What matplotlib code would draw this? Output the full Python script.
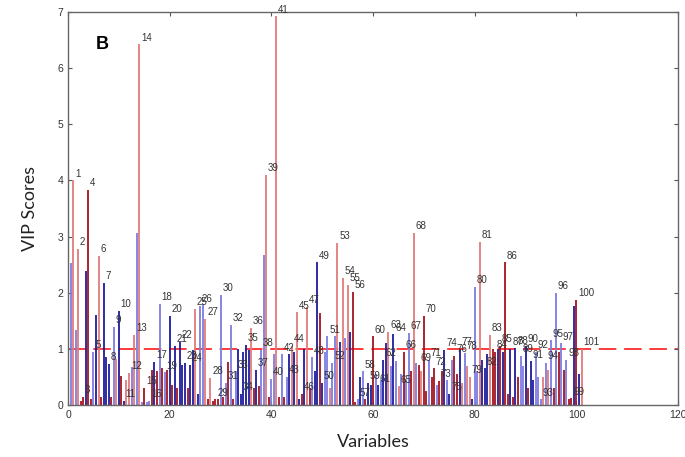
import numpy as np
import matplotlib
matplotlib.use('Agg')
import matplotlib.pyplot as plt

# VIP score per variable (labelled stem) and a second stem drawn just left of it
var_ids = list(range(1, 102))
vip_main = [4.00, 2.78, 0.15, 3.83, 0.95, 2.65, 2.17, 0.73, 1.39, 1.68,
            0.08, 0.57, 1.25, 6.42, 0.30, 0.08, 0.77, 1.80, 0.58, 1.59,
            1.05, 1.12, 0.75, 0.72, 1.71, 1.77, 1.53, 0.48, 0.10, 1.96,
            0.40, 1.43, 0.60, 0.20, 1.07, 1.37, 0.63, 0.98, 4.10, 0.47,
            6.92, 0.90, 0.50, 1.05, 1.65, 0.20, 1.75, 0.85, 2.54, 0.40,
            1.22, 0.75, 2.89, 2.26, 2.14, 2.02, 0.10, 0.60, 0.40, 1.22,
            0.35, 0.80, 1.30, 1.26, 0.33, 0.95, 1.28, 3.06, 0.72, 1.59,
            0.80, 0.65, 0.43, 0.98, 0.20, 0.87, 1.00, 0.93, 0.50, 2.10,
            2.91, 0.65, 1.25, 0.95, 1.05, 2.54, 1.00, 1.02, 0.88, 1.05,
            0.78, 0.95, 0.10, 0.75, 1.15, 2.00, 1.10, 0.80, 0.12, 1.87,
            1.00]
main_col = list('rrRRbrBBbB' 'BrrrRbBbbB' 'BBBBrbrrRb' 'bbbBBrBbrb'
                'rbbrrRrbBB' 'bbrrrRbbBR' 'BBrBrRbrRR' 'bRRBBRBbrb'
                'rBrRRRBBbB' 'BbbbbbbbRR' 'r')
vip_side = [2.53, 1.34, 0.08, 2.38, 0.10, 1.60, 0.15, 0.86, 0.15, 0.82,
            0.52, 0.45, 0.68, 3.06, 0.05, 0.05, 0.63, 0.60, 0.65, 0.63,
            0.35, 0.30, 0.72, 0.30, 0.98, 0.20, 1.80, 0.10, 0.08, 0.10,
            0.15, 0.77, 0.10, 1.00, 0.95, 0.98, 0.30, 0.33, 2.67, 0.15,
            0.90, 0.15, 0.15, 0.90, 0.95, 0.10, 1.00, 0.30, 0.60, 1.63,
            0.95, 0.30, 1.22, 1.12, 1.20, 1.30, 0.05, 0.50, 0.10, 0.35,
            0.55, 0.45, 1.11, 0.70, 0.78, 0.55, 0.45, 0.60, 0.75, 0.60,
            0.25, 0.50, 0.35, 0.60, 0.45, 0.80, 0.55, 0.40, 0.70, 0.10,
            0.60, 0.80, 0.90, 1.00, 1.00, 0.95, 0.20, 0.15, 0.50, 0.70,
            0.30, 0.45, 0.50, 0.50, 0.62, 0.30, 0.95, 0.62, 0.10, 1.76,
            0.55]
side_col = list('bbRBRBRBRr' 'RrbbbbRRRR' 'RRBRBBbRRR' 'RRRBBBRRbR'
                'bRRBBBBRBR' 'brbBbBRBRB' 'bbBbbbbRbr' 'RRbRbbRrrB'
                'bBBRBBRRRb' 'RBbrrRRRRB' 'B')

palette = {'r': '#e07b7b', 'b': '#7d7de0', 'B': '#1c1c9c', 'R': '#a3141e'}

fig = plt.figure(figsize=(6.85, 4.57), dpi=100)
ax = fig.add_axes([0.0993, 0.1138, 0.8907, 0.8602])

for i, v, c in zip(var_ids, vip_side, side_col):
    if v > 0:
        ax.vlines(i - 0.5, 0, v, color=palette[c], lw=1.3)
for i, v, c in zip(var_ids, vip_main, main_col):
    ax.vlines(i, 0, v, color=palette[c], lw=1.3)
    ax.text(i + 0.35, v + 0.03, str(i), fontsize=7, color='#333333',
            family='Liberation Sans', ha='left', va='bottom')

ax.axhline(1, color='#ff3b3b', lw=1.4, ls=(0, (9, 4)), zorder=0.5)

ax.set_xlim(0, 120)
ax.set_ylim(0, 7)
ax.set_xticks(np.arange(0, 121, 20))
ax.set_yticks(np.arange(0, 8, 1))
ax.tick_params(direction='in', top=True, right=True, length=3, width=0.8,
               colors='#555555', labelsize=7.5, labelcolor='#333333')
for lab in ax.get_xticklabels() + ax.get_yticklabels():
    lab.set_family('Liberation Sans')
for s in ax.spines.values():
    s.set_color('#666666')
    s.set_linewidth(1.0)

ax.text(0.045, 0.905, 'B', transform=ax.transAxes, fontsize=13,
        fontweight='bold', family='Liberation Sans')
ax.set_xlabel('Variables', fontsize=13, family='Lato', color='#222222', labelpad=10)
ax.set_ylabel('VIP Scores', fontsize=13, family='Lato', color='#222222', labelpad=14)

fig.savefig('out.png', dpi=100)
